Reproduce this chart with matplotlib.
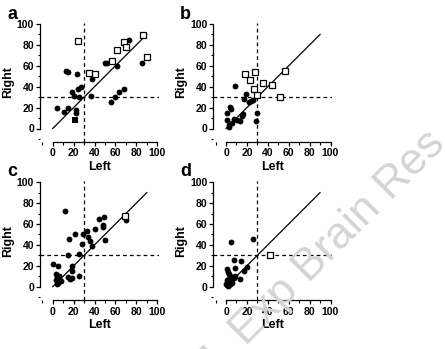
import matplotlib
matplotlib.use("Agg")
import matplotlib.pyplot as plt
from matplotlib.ticker import MultipleLocator

plt.rcParams['font.family'] = ['Liberation Sans', 'DejaVu Sans']

W, H, DPI = 445, 349, 100

# ---------------- data ----------------
panel_labels = ['a', 'b', 'c', 'd']
x_label = 'Left'
y_label = 'Right'
tick_vals = [0, 20, 40, 60, 80, 100]
threshold = 30
identity_end = 90

circ_a_x = [4, 11, 15, 22, 22, 13, 15, 23, 18, 20, 25, 24, 27, 38, 37, 50, 52, 62, 73, 85, 56, 60, 63, 68]
circ_a_y = [20, 16, 20, 18, 15, 55, 54, 52, 35, 31, 30, 38, 40, 47, 31, 63, 63, 60, 85, 63, 25, 30, 35, 38]
sq_a_x = [24, 35, 40, 57, 62, 68, 70, 86, 90]
sq_a_y = [84, 53, 52, 65, 75, 83, 78, 89, 68]
fsq_a_x = [21]
fsq_a_y = [8]

circ_b_x = [9, 19, 17, 22, 24, 26, 30, 29, 4, 5, 1, 1, 3, 3, 6, 8, 11, 13, 15, 16]
circ_b_y = [41, 33, 28, 25, 26, 27, 15, 7, 21, 19, 15, 8, 3, 1, 5, 9, 8, 7, 12, 14]
sq_b_x = [18, 28, 23, 35, 27, 30, 44, 56, 52]
sq_b_y = [52, 54, 46, 44, 38, 32, 42, 55, 30]

circ_c_x = [12, 44, 49, 48, 48, 50, 70, 40, 21, 29, 33, 34, 36, 38, 16, 28, 15, 25, 0, 5, 18, 18, 25,
            15, 17, 18, 3, 4, 5, 6, 7, 4, 5, 8, 3, 6]
circ_c_y = [72, 65, 67, 59, 57, 45, 64, 55, 50, 50, 53, 48, 44, 39, 46, 41, 30, 31, 22, 20, 20, 15, 10,
            9, 7, 8, 12, 9, 7, 5, 6, 3, 4, 5, 6, 10]
sq_c_x = [69]
sq_c_y = [68]

circ_d_x = [5, 26, 8, 14, 9, 20, 17, 13, 1, 2, 3, 4, 5, 6, 7, 8, 2, 1, 2, 3, 4, 5, 6, 0, 1, 3, 9]
circ_d_y = [43, 46, 26, 25, 18, 19, 15, 7, 17, 14, 12, 10, 9, 8, 9, 8, 5, 2, 1, 2, 3, 5, 4, 3, 6, 7, 10]
sq_d_x = [42]
sq_d_y = [30]

watermark = 'J. Exp Brain Res'

panels = [
    dict(label='a', cx=circ_a_x, cy=circ_a_y, sx=sq_a_x, sy=sq_a_y, fx=fsq_a_x, fy=fsq_a_y),
    dict(label='b', cx=circ_b_x, cy=circ_b_y, sx=sq_b_x, sy=sq_b_y, fx=[], fy=[]),
    dict(label='c', cx=circ_c_x, cy=circ_c_y, sx=sq_c_x, sy=sq_c_y, fx=[], fy=[]),
    dict(label='d', cx=circ_d_x, cy=circ_d_y, sx=sq_d_x, sy=sq_d_y, fx=[], fy=[]),
]

# pixel placement: (x of data 0, y of data 0)
origins = [(52.7, 128.5), (226, 128.5), (52.7, 286.7), (226, 286.7)]
label_pos = [(7, 19), (180, 19), (7, 176), (180, 176)]
scale = 1.045
xmin, xmax = -12, 101.5
ymin, ymax = -13, 101

fig = plt.figure(figsize=(W / DPI, H / DPI), dpi=DPI)

for p, (x0, y0), (lx, ly) in zip(panels, origins, label_pos):
    left = (x0 + xmin * scale) / W
    width = (xmax - xmin) * scale / W
    bottom = 1 - (y0 - ymin * scale) / H
    height = (ymax - ymin) * scale / H
    ax = fig.add_axes([left, bottom, width, height])
    ax.set_xlim(xmin, xmax)
    ax.set_ylim(ymin, ymax)
    for s in ['top', 'right']:
        ax.spines[s].set_visible(False)
    ax.spines['left'].set_bounds(0, 100)
    ax.spines['bottom'].set_bounds(0, 100)
    for s in ['left', 'bottom']:
        ax.spines[s].set_linewidth(0.9)
    ax.set_xticks(tick_vals)
    ax.set_yticks(tick_vals)
    ax.xaxis.set_minor_locator(MultipleLocator(10))
    ax.yaxis.set_minor_locator(MultipleLocator(10))
    ax.tick_params(which='major', length=3, width=0.9, labelsize=7.5, pad=1.5)
    ax.tick_params(which='minor', length=1.8, width=0.8)
    for t in ax.get_xticklabels() + ax.get_yticklabels():
        t.set_fontweight('bold')
    ax.set_xlabel(x_label, fontsize=9, fontweight='bold', labelpad=2)
    ax.set_ylabel(y_label, fontsize=9, fontweight='bold', labelpad=2)

    ax.axhline(threshold, color='black', lw=0.9, ls=(0, (3, 2.5)), zorder=1)
    ax.axvline(threshold, color='black', lw=0.9, ls=(0, (3, 2.5)), zorder=1)
    ax.plot([0, identity_end], [0, identity_end], color='black', lw=0.9, zorder=2)

    ax.plot(p['cx'], p['cy'], 'o', color='black', ms=4.2, mew=0, zorder=3, clip_on=False)
    ax.plot(p['sx'], p['sy'], 's', mfc='white', mec='black', ms=4.2, mew=0.9, zorder=4, clip_on=False)
    if p['fx']:
        ax.plot(p['fx'], p['fy'], 's', color='black', ms=4.2, mew=0, zorder=4, clip_on=False)

    fig.text(lx / W, 1 - ly / H, p['label'], fontsize=13, fontweight='bold', va='baseline', ha='left')

fig.text(322 / W, 1 - 254 / H, watermark, fontsize=32, color='#d4d4d4', rotation=45,
         rotation_mode='anchor', ha='center', va='center', zorder=10)

fig.savefig('out.png', dpi=DPI)
